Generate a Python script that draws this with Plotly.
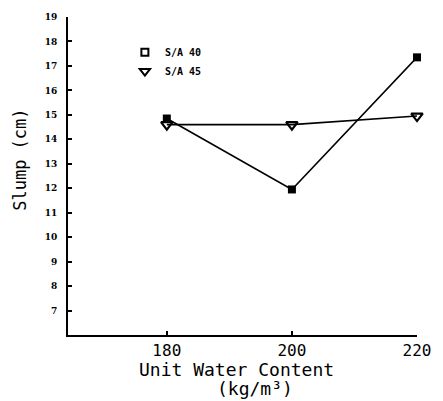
import plotly.graph_objects as go

water = [180, 200, 220]
slump_sa40 = [14.85, 11.95, 17.35]
slump_sa45 = [14.6, 14.6, 14.95]
series_names = ["S/A 40", "S/A 45"]
y_ticks = list(range(7, 20))
x_ticks = [180, 200, 220]

fig = go.Figure()
fig.add_trace(go.Scatter(x=water, y=slump_sa40, mode="lines+markers", showlegend=False,
                         line=dict(color="black", width=1.6),
                         marker=dict(symbol="square", size=8, color="black"),
                         cliponaxis=False))
fig.add_trace(go.Scatter(x=water, y=slump_sa45, mode="lines+markers", showlegend=False,
                         line=dict(color="black", width=1.6),
                         marker=dict(symbol="triangle-down-open", size=10, color="black",
                                     line=dict(width=2.2, color="black")),
                         cliponaxis=False))
# legend entries (hollow symbols as in the key)
fig.add_trace(go.Scatter(x=[None], y=[None], mode="markers", name=series_names[0],
                         marker=dict(symbol="square-open", size=7, color="black",
                                     line=dict(width=2, color="black"))))
fig.add_trace(go.Scatter(x=[None], y=[None], mode="markers", name=series_names[1],
                         marker=dict(symbol="triangle-down-open", size=9, color="black",
                                     line=dict(width=2, color="black"))))

fig.update_layout(
    width=443, height=401,
    margin=dict(l=68, r=25, t=14, b=66),
    paper_bgcolor="white", plot_bgcolor="white",
    showlegend=True,
    legend=dict(x=0.163, y=0.935, xanchor="left", yanchor="top",
                bgcolor="rgba(0,0,0,0)", tracegroupgap=0,
                font=dict(family="DejaVu Sans Mono", size=10, color="black", weight="bold"),
                itemwidth=30),
    xaxis=dict(range=[164.2, 220], tickvals=x_ticks, ticks="inside", ticklen=4,
               tickwidth=1.5, tickcolor="black", showgrid=False, zeroline=False,
               showline=True, linecolor="black", linewidth=2,
               tickfont=dict(family="DejaVu Sans Mono", size=16, color="black"),
               ticklabelstandoff=0),
    yaxis=dict(range=[6, 19], tickvals=y_ticks, ticks="inside", ticklen=4,
               tickwidth=1.5, tickcolor="black", showgrid=False, zeroline=False,
               showline=True, linecolor="black", linewidth=2,
               tickfont=dict(family="DejaVu Serif", size=9, color="black", weight="bold"),
               ticklabelstandoff=7),
    annotations=[
        dict(text="Unit Water Content", xref="paper", yref="paper",
             x=(237 - 68) / 350, y=(335 - 370) / 321, xanchor="center", yanchor="middle",
             showarrow=False, font=dict(family="DejaVu Sans Mono", size=18, color="black")),
        dict(text="(kg/m³)", xref="paper", yref="paper",
             x=(256 - 68) / 350, y=(335 - 389) / 321, xanchor="center", yanchor="middle",
             showarrow=False, font=dict(family="DejaVu Sans Mono", size=18, color="black")),
        dict(text="Slump (cm)", xref="paper", yref="paper", textangle=-90,
             x=(20 - 68) / 350, y=(335 - 158) / 321, xanchor="center", yanchor="middle",
             showarrow=False, font=dict(family="DejaVu Sans Mono", size=17, color="black")),
    ],
)

fig.write_html("out.html", config={"displayModeBar": False},
               post_script="document.body.style.margin='0';document.body.style.overflow='hidden';")
